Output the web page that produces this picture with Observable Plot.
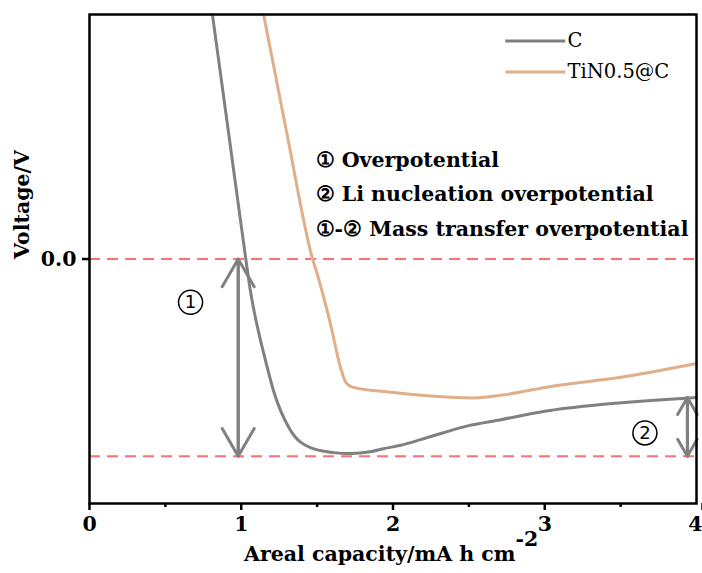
<!DOCTYPE html>
<html><head><meta charset="utf-8">
<script src="https://cdn.jsdelivr.net/npm/d3@7"></script>
<script src="https://cdn.jsdelivr.net/npm/@observablehq/plot@0.6"></script>
<style>
body{margin:0;background:#fff}
</style>
</head><body><div id="chart"></div>
<script>
// C curve
const xC = [0.81, 0.92, 1.03, 1.06, 1.08, 1.127, 1.16, 1.212, 1.325, 1.456, 1.608, 1.72, 1.85, 1.937, 2.05, 2.25, 2.5, 2.71, 3.0, 3.37, 3.7, 4.0];
const vC = [0.124, 0.062, 0.0, -0.016, -0.0246, -0.0413, -0.0515, -0.0667, -0.087, -0.0957, -0.0982, -0.0987, -0.0978, -0.0962, -0.0945, -0.090, -0.0845, -0.0815, -0.0772, -0.0738, -0.0718, -0.0703];
// TiN0.5@C curve
const xT = [1.147, 1.305, 1.47, 1.50, 1.587, 1.654, 1.69, 1.733, 1.97, 2.25, 2.51, 2.72, 3.05, 3.5, 4.0];
const vT = [0.124, 0.062, 0.0, -0.0074, -0.0327, -0.055, -0.0627, -0.065, -0.0675, -0.0695, -0.0705, -0.069, -0.0645, -0.060, -0.053];
const seriesNames = ["C", "TiN0.5@C"];
const seriesColors = ["#808080", "#e0ae88"];
const xTicks = [0, 1, 2, 3];
const xLastTick = [4];
const xMinor = [0.5, 1.5, 2.5, 3.5];
const yTicks = [0.0];
const refLines = [0.0, -0.1];
const notes = ["① Overpotential", "② Li nucleation overpotential", "①-② Mass transfer overpotential"];
const noteY = [0.0499, 0.0327, 0.015];
const arrow1 = {x: 0.98, y1: 0.0, y2: -0.1, label: "1", lx: 0.666, ly: -0.0219};
const arrow2 = {x: 3.94, y1: -0.0703, y2: -0.1, label: "2", lx: 3.66, ly: -0.0882};

const C = xC.map((x, i) => ({x, v: vC[i]}));
const T = xT.map((x, i) => ({x, v: vT[i]}));
const gray = seriesColors[0];
const SERIF = "DejaVu Serif";
const FS = 20.5;

function dblArrow(a) {
  return [
    Plot.arrow([a], {x1: "x", x2: "x", y1: "y2", y2: "y1", stroke: gray, strokeWidth: 3, headLength: 16, headAngle: 60}),
    Plot.arrow([a], {x1: "x", x2: "x", y1: "y1", y2: "y2", stroke: gray, strokeWidth: 3, headLength: 16, headAngle: 60}),
    Plot.dot([a], {x: "lx", y: "ly", r: 12, stroke: "black", strokeWidth: 1.5, fill: "white"}),
    Plot.text([a], {x: "lx", y: "ly", text: "label", fontSize: 18, fill: "black", fontFamily: "DejaVu Sans", className: "circ"})
  ];
}

const legend = seriesNames.map((s, i) => ({s, c: seriesColors[i], y: [0.1105, 0.0948][i]}));

const chart = Plot.plot({
  width: 702, height: 573,
  marginLeft: 89, marginRight: 6, marginTop: 14, marginBottom: 70,
  x: {domain: [0, 4]},
  y: {domain: [-0.124, 0.124]},
  style: {background: "white", color: "black"},
  marks: [
    Plot.ruleY(refLines, {stroke: "#ff6f6f", strokeWidth: 2, strokeDasharray: "11,7"}),
    Plot.line(C, {x: "x", y: "v", stroke: seriesColors[0], strokeWidth: 3, curve: "monotone-x"}),
    Plot.line(T, {x: "x", y: "v", stroke: seriesColors[1], strokeWidth: 3, curve: "monotone-x"}),
    ...dblArrow(arrow1),
    ...dblArrow(arrow2),
    Plot.text(notes, {x: () => 1.49, y: (d, i) => noteY[i], text: d => d, textAnchor: "start", fontSize: FS, fontWeight: "bold", fontFamily: SERIF, fill: "black", className: "sf"}),
    Plot.link(legend, {x1: () => 2.74, x2: () => 3.135, y1: "y", y2: "y", stroke: "c", strokeWidth: 3}),
    Plot.text(legend, {x: () => 3.15, y: "y", text: "s", textAnchor: "start", fontSize: 19.5, fontFamily: SERIF, fill: "black", className: "sf"}),
    Plot.frame({stroke: "black", strokeWidth: 2.5}),
    Plot.axisX({ticks: xTicks, tickSize: 7, tickPadding: 6, tickFormat: d => String(d), fontSize: FS, fontWeight: "bold", fontFamily: SERIF, strokeWidth: 2.5, label: null, className: "sf"}),
    Plot.axisX({ticks: xLastTick, tickSize: 7, tickPadding: 6, tickFormat: d => String(d), textAnchor: "end", dx: 6, fontSize: FS, fontWeight: "bold", fontFamily: SERIF, strokeWidth: 2.5, label: null, className: "sf"}),
    Plot.axisX({ticks: xMinor, tickSize: 4, tickFormat: () => "", strokeWidth: 2.5, label: null}),
    Plot.axisY({ticks: yTicks, tickSize: 7, tickPadding: 6, tickFormat: d3.format(".1f"), fontSize: FS, fontWeight: "bold", fontFamily: SERIF, strokeWidth: 2.5, label: null, className: "sf"}),
    Plot.text(["Areal capacity/mA h cm"], {x: () => 2.807, frameAnchor: "bottom", dy: 57, textAnchor: "end", fontSize: FS, fontWeight: "bold", fontFamily: SERIF, fill: "black", className: "sf"}),
    Plot.text(["-2"], {x: () => 2.807, frameAnchor: "bottom", dy: 42, textAnchor: "start", fontSize: FS, fontWeight: "bold", fontFamily: SERIF, fill: "black", className: "sf"}),
    Plot.text(["Voltage/V"], {frameAnchor: "left", dx: -67, rotate: -90, fontSize: FS, fontWeight: "bold", fontFamily: SERIF, fill: "black", className: "sf"})
  ]
});
document.getElementById("chart").appendChild(chart);
d3.select(chart).selectAll(".sf text").style("font-family", SERIF);
</script>
</body></html>
